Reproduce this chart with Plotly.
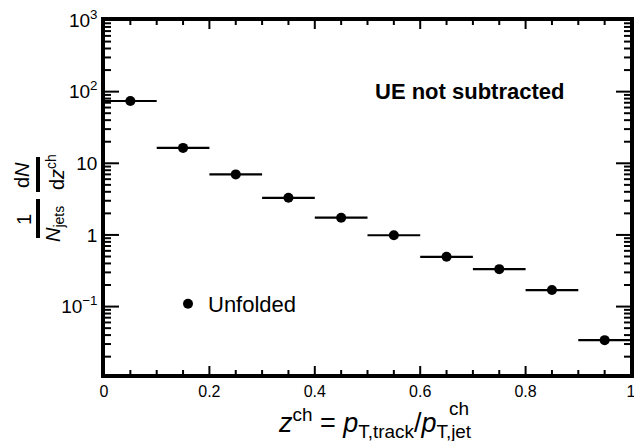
import plotly.graph_objects as go

# Unfolded charged-particle fragmentation distribution, UE not subtracted
z_centers = [0.05, 0.15, 0.25, 0.35, 0.45, 0.55, 0.65, 0.75, 0.85, 0.95]
z_halfwidth = [0.05] * 10
dn_dz = [74.0, 16.4, 7.0, 3.3, 1.74, 0.99, 0.495, 0.333, 0.170, 0.034]

y_tickvals = [0.1, 1, 10, 100, 1000]
y_ticktext = ["10<sup>\u22121</sup>", "1", "10", "10<sup>2</sup>", "10<sup>3</sup>"]
y_minor = [k * 10.0 ** e for e in range(-2, 3) for k in range(2, 10)]
x_tickvals = [0, 0.2, 0.4, 0.6, 0.8, 1.0]
x_ticktext = ["0", "0.2", "0.4", "0.6", "0.8", "1"]
x_minor = [0.05, 0.1, 0.15, 0.25, 0.3, 0.35, 0.45, 0.5, 0.55,
           0.65, 0.7, 0.75, 0.85, 0.9, 0.95]

W, H = 634, 441
ML, MR, MT, MB = 104, 3, 20, 66
PW, PH = W - ML - MR, H - MT - MB
X_RANGE = [0, 1]
Y_RANGE = [-1.955, 3]


def px(x):
    return (x - ML) / PW


def py(y):
    return (H - MB - y) / PH


FONT = "Liberation Sans, Arial, Helvetica, sans-serif"

fig = go.Figure()
fig.add_trace(go.Scatter(
    x=z_centers, y=dn_dz, mode="markers", name="Unfolded",
    marker=dict(color="black", size=10, symbol="circle"),
    error_x=dict(type="data", array=z_halfwidth, width=0, thickness=2.2, color="black"),
))

fig.update_layout(
    width=W, height=H,
    margin=dict(l=ML, r=MR, t=MT, b=MB),
    paper_bgcolor="white", plot_bgcolor="white",
    font=dict(family=FONT, color="black"),
    showlegend=True,
    legend=dict(x=px(168), y=py(304), xanchor="left", yanchor="middle",
                bgcolor="rgba(0,0,0,0)", font=dict(size=22, family=FONT),
                itemwidth=30),
    xaxis=dict(
        range=X_RANGE, showline=True, linewidth=2.5, linecolor="black", mirror=True,
        showgrid=False, zeroline=False, automargin=False, ticks="",
        tickvals=x_tickvals, ticktext=x_ticktext, ticklabeloverflow="allow",
        tickfont=dict(size=16, family=FONT),
    ),
    yaxis=dict(
        type="log", range=Y_RANGE, showline=True, linewidth=2.5, linecolor="black",
        mirror=True, showgrid=False, zeroline=False, automargin=False, ticks="",
        tickvals=y_tickvals, ticktext=y_ticktext, ticklabeloverflow="allow",
        tickfont=dict(size=19, family=FONT),
    ),
)

# inward tick marks on all four frame edges (major and minor)
tick_line = dict(color="black", width=2)
for vals, length in [(x_tickvals, 9), (x_minor, 5)]:
    h = length / PH
    for v in vals:
        fig.add_shape(type="line", xref="x", yref="paper", x0=v, x1=v, y0=0, y1=h, line=tick_line)
        fig.add_shape(type="line", xref="x", yref="paper", x0=v, x1=v, y0=1, y1=1 - h, line=tick_line)
for vals, length in [(y_tickvals, 15), (y_minor, 7)]:
    w = length / PW
    for v in vals:
        fig.add_shape(type="line", xref="paper", yref="y", x0=0, x1=w, y0=v, y1=v, line=tick_line)
        fig.add_shape(type="line", xref="paper", yref="y", x0=1, x1=1 - w, y0=v, y1=v, line=tick_line)

ann = []
# x title
ann.append(dict(
    x=px(375), y=py(423), xref="paper", yref="paper", showarrow=False,
    xanchor="center", yanchor="middle",
    text="<i>z</i><sup>ch</sup> = <i>p</i><sub>T,track</sub>/<i>p</i><sub>T,jet</sub>",
    font=dict(size=27, family=FONT),
))
ann.append(dict(
    x=px(459), y=py(408), xref="paper", yref="paper", showarrow=False,
    xanchor="center", yanchor="middle", text="ch",
    font=dict(size=19, family=FONT),
))
# y title as a stacked fraction: 1/N_jets dN/dz^ch (rotated)
for text, x0, y0 in [
    ("d<i>N</i>", 22, 175),
    ("d<i>z</i><sup>ch</sup>", 55, 172),
    ("1", 24, 220),
    ("<i>N</i><sub>jets</sub>", 54, 224),
]:
    ann.append(dict(
        x=px(x0), y=py(y0), xref="paper", yref="paper", showarrow=False,
        xanchor="center", yanchor="middle", textangle=-90, text=text,
        font=dict(size=20, family=FONT),
    ))
ann.append(dict(
    x=px(469), y=py(92), xref="paper", yref="paper", showarrow=False,
    xanchor="center", yanchor="middle", text="<b>UE not subtracted</b>",
    font=dict(size=22, family=FONT),
))
fig.update_layout(annotations=ann)

# frame around the plot area
fig.add_shape(type="rect", xref="paper", yref="paper", x0=0, x1=1, y0=0, y1=1,
              line=dict(color="black", width=2))
# fraction bars of the y title
for y_top, y_bot in [(157, 192), (199, 238)]:
    fig.add_shape(type="line", xref="paper", yref="paper",
                  x0=px(38), x1=px(38), y0=py(y_top), y1=py(y_bot),
                  line=dict(color="black", width=4))

fig.write_html("out.html")
